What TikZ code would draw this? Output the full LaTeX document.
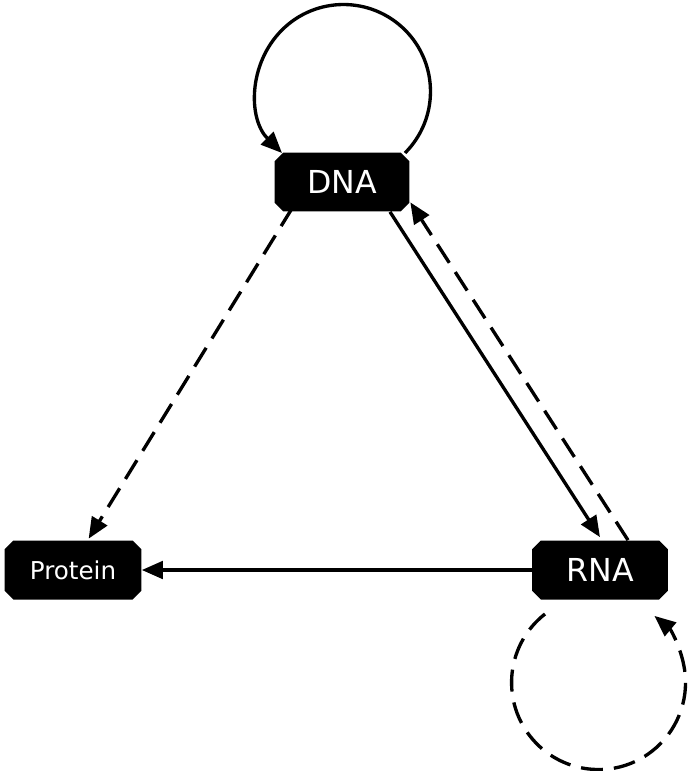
\documentclass[tikz,border=0pt]{standalone}
\usepackage{fontspec}
\setmainfont{DejaVu Sans}
\usetikzlibrary{shapes.misc,arrows.meta,calc}
\begin{document}
\begin{tikzpicture}[x=0.02cm,y=-0.02cm,
  mol/.style={chamfered rectangle,chamfered rectangle xsep=2.5pt,chamfered rectangle ysep=2.5pt,fill=black,text=white,inner sep=0pt,minimum height=1.18cm},
  arr/.style={line width=1.9pt,-{Triangle[length=12pt,width=10pt]}},
  dsh/.style={dash pattern=on 0.44cm off 0.22cm}]
\useasboundingbox[fill=white] (0,0) rectangle (693,771);
\node[mol,minimum width=2.7cm,font=\fontsize{18}{20}\selectfont] (DNA) at (342,182) {DNA};
\node[mol,minimum width=2.74cm,font=\fontsize{14}{16}\selectfont] (P) at (73,570) {Protein};
\node[mol,minimum width=2.72cm,font=\fontsize{18}{20}\selectfont] (R) at (600,570) {RNA};
\draw[arr] ($(DNA)+(63,-29)$) arc[start angle=-45,end angle=225,radius=1.74cm];
\draw[arr,dsh] ($(DNA.south west)+(14,0)$) -- ($(P.north west)+(80,-6)$);
\draw[arr] ($(DNA.south)+(48,0)$) -- ($(R.north)+(0,-3)$);
\draw[arr,dsh] ($(R.north)+(28,0)$) -- ($(DNA.south east)+(5,-5)$);
\draw[arr] (R.west) -- (P.east);
\draw[arr,dsh] ($(R)+(-55,44)$) arc[start angle=128,end angle=410,radius=1.74cm];
\end{tikzpicture}
\end{document}
